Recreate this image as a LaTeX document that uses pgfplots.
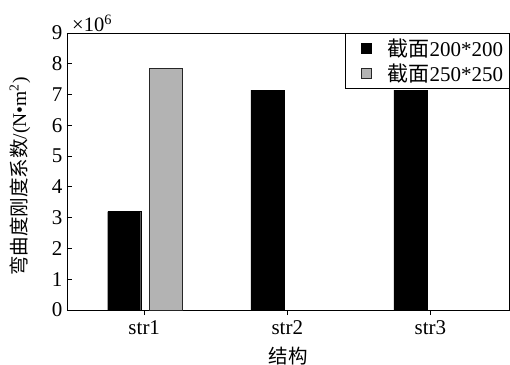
\documentclass[border=0pt]{standalone}
\usepackage{pgfplots}
\pgfplotsset{compat=1.18}
\usepackage{fontspec}
\setmainfont{Liberation Serif}
\newfontfamily\cjk{Noto Sans CJK SC}
\definecolor{bargrey}{RGB}{179,179,179}
\begin{document}
\begin{tikzpicture}[font=\fontsize{19.5bp}{22bp}\selectfont]
\path[use as bounding box] (-67bp,-55bp) rectangle (443bp,310bp);
\begin{axis}[
  at={(0,0)}, anchor=south west,
  scale only axis, width=442bp, height=277bp,
  xmin=0.46, xmax=3.55, ymin=0, ymax=9000000,
  xtick={1,2,3}, xticklabels={str1,str2,str3},
  ytick={0,1000000,2000000,3000000,4000000,5000000,6000000,7000000,8000000,9000000},
  scaled y ticks=base 10:-6,
  ytick scale label code/.code={×10\textsuperscript{6}},
  every y tick scale label/.style={at={(rel axis cs:0,1)}, anchor=south west, xshift=6bp, yshift=1bp, inner sep=0pt, font=\fontsize{20.5bp}{23bp}\selectfont},
  /pgf/number format/assume math mode=true,
  tick label style={font=\fontsize{21bp}{24bp}\selectfont},
  tick pos=left, tick align=inside, major tick length=5bp,
  axis line style={line width=1pt}, every tick/.style={line width=0.8pt, black},
  ybar, bar width=33bp,
  every axis x label/.style={at={(rel axis cs:0.5,0)}, yshift=-46bp, anchor=center},
  every axis y label/.style={at={(rel axis cs:0,0.5)}, xshift=-47bp, yshift=-5bp, rotate=90, anchor=center},
  xlabel={\cjk 结构},
  ylabel={{\cjk 弯曲度刚度系数}/(N•m\textsuperscript{2})},
  xticklabel style={yshift=-2bp},
  yticklabel style={xshift=-1bp},
  legend cell align=left,
  legend style={at={(rel axis cs:1,1)}, anchor=north east, draw=black, line width=0.8pt,
    outer sep=0pt, inner xsep=0bp, inner ysep=3.5bp, row sep=2bp, column sep=0bp,
    font=\fontsize{21bp}{24bp}\selectfont,
    nodes={inner xsep=6bp, inner ysep=2bp}},
  legend image code/.code={\path[draw=none,fill=none] (0bp,0bp) -- (36bp,0bp); \draw[#1, line width=0.5pt] (16bp,-5bp) rectangle (26bp,5bp);},
]
\addplot[fill=black, draw=black, bar shift=-20bp] coordinates {(1,3200000) (2,7140000) (3,7140000)};
\addplot[fill=bargrey, draw=black!85, line width=0.8pt, bar shift=22bp] coordinates {(1,7850000)};
\legend{{\cjk 截面}200*200,{\cjk 截面}250*250}
\end{axis}
\end{tikzpicture}
\end{document}
